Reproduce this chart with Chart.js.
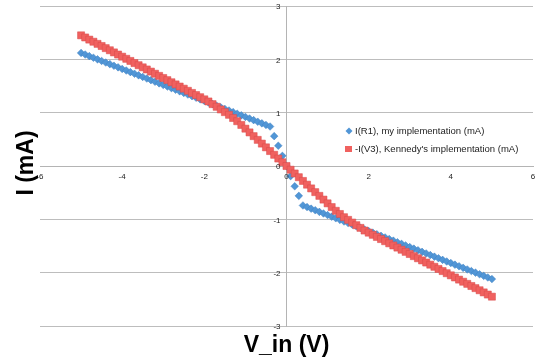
<!DOCTYPE html>
<html>
<head>
<meta charset="utf-8">
<script src="https://cdn.jsdelivr.net/npm/chart.js@4.4.0/dist/chart.umd.min.js"></script>
<style>
  html, body { margin: 0; padding: 0; background: #fff; }
  #wrap { width: 540px; height: 363px; }
</style>
</head>
<body>
<div id="wrap"><canvas id="iv-chart" width="540" height="363"></canvas></div>
<script>
// Input voltage (V)
const vIn = [
  -5.0, -4.9, -4.8, -4.7, -4.6, -4.5, -4.4, -4.3, -4.2, -4.1,
  -4.0, -3.9, -3.8, -3.7, -3.6, -3.5, -3.4, -3.3, -3.2, -3.1,
  -3.0, -2.9, -2.8, -2.7, -2.6, -2.5, -2.4, -2.3, -2.2, -2.1,
  -2.0, -1.9, -1.8, -1.7, -1.6, -1.5, -1.4, -1.3, -1.2, -1.1,
  -1.0, -0.9, -0.8, -0.7, -0.6, -0.5, -0.4, -0.3, -0.2, -0.1,
  0.0, 0.1, 0.2, 0.3, 0.4, 0.5, 0.6, 0.7, 0.8, 0.9,
  1.0, 1.1, 1.2, 1.3, 1.4, 1.5, 1.6, 1.7, 1.8, 1.9,
  2.0, 2.1, 2.2, 2.3, 2.4, 2.5, 2.6, 2.7, 2.8, 2.9,
  3.0, 3.1, 3.2, 3.3, 3.4, 3.5, 3.6, 3.7, 3.8, 3.9,
  4.0, 4.1, 4.2, 4.3, 4.4, 4.5, 4.6, 4.7, 4.8, 4.9,
  5.0
];

// I(R1), my implementation (mA)
const iMine = [
  2.12, 2.09, 2.06, 2.03, 2.00, 1.97, 1.94, 1.91, 1.88, 1.85,
  1.82, 1.79, 1.76, 1.73, 1.70, 1.67, 1.64, 1.61, 1.58, 1.55,
  1.52, 1.49, 1.46, 1.43, 1.40, 1.37, 1.34, 1.31, 1.28, 1.25,
  1.22, 1.19, 1.16, 1.13, 1.10, 1.07, 1.04, 1.01, 0.98, 0.95,
  0.92, 0.89, 0.86, 0.83, 0.80, 0.77, 0.74, 0.56, 0.38, 0.19,
  0.00, -0.19, -0.38, -0.56, -0.74, -0.77, -0.80, -0.83, -0.86, -0.89,
  -0.92, -0.95, -0.98, -1.01, -1.04, -1.07, -1.10, -1.13, -1.16, -1.19,
  -1.22, -1.25, -1.28, -1.31, -1.34, -1.37, -1.40, -1.43, -1.46, -1.49,
  -1.52, -1.55, -1.58, -1.61, -1.64, -1.67, -1.70, -1.73, -1.76, -1.79,
  -1.82, -1.85, -1.88, -1.91, -1.94, -1.97, -2.00, -2.03, -2.06, -2.09,
  -2.12
];

// -I(V3), Kennedy's implementation (mA)
const iKennedy = [
  2.45, 2.41, 2.37, 2.33, 2.29, 2.25, 2.21, 2.17, 2.13, 2.09,
  2.05, 2.01, 1.97, 1.93, 1.89, 1.85, 1.81, 1.77, 1.73, 1.69,
  1.65, 1.61, 1.57, 1.53, 1.49, 1.45, 1.41, 1.37, 1.33, 1.29,
  1.25, 1.21, 1.16, 1.11, 1.06, 1.01, 0.96, 0.90, 0.84, 0.77,
  0.70, 0.63, 0.56, 0.49, 0.42, 0.35, 0.28, 0.21, 0.14, 0.07,
  0.00, -0.07, -0.14, -0.21, -0.28, -0.35, -0.42, -0.49, -0.56, -0.63,
  -0.70, -0.77, -0.84, -0.90, -0.96, -1.01, -1.06, -1.11, -1.16, -1.21,
  -1.25, -1.29, -1.33, -1.37, -1.41, -1.45, -1.49, -1.53, -1.57, -1.61,
  -1.65, -1.69, -1.73, -1.77, -1.81, -1.85, -1.89, -1.93, -1.97, -2.01,
  -2.05, -2.09, -2.13, -2.17, -2.21, -2.25, -2.29, -2.33, -2.37, -2.41,
  -2.45
];

// Tick labels
const xTicks = [-6, -4, -2, 0, 2, 4, 6];
const yTicks = [-3, -2, -1, 0, 1, 2, 3];

const seriesNames = ['I(R1), my implementation (mA)', '-I(V3), Kennedy\'s implementation (mA)'];
const xTitle = 'V_in (V)';
const yTitle = 'I (mA)';

const BLUE = '#5196d6';
const BLUE_EDGE = '#3f80c2';
const RED = '#f0615f';
const RED_EDGE = '#d94a4b';
const FONT = '"Liberation Sans", Arial, sans-serif';

const toPoints = (ys) => vIn.map((x, i) => ({ x: x, y: ys[i] }));

/**
 * Tick labels next to the crossing axes (Excel puts them right on the axes)
 */
const axisLabels = {
  id: 'axisLabels',
  afterDraw(chart) {
    const { ctx } = chart;
    const xs = chart.scales.x;
    const ys = chart.scales.y;
    const x0 = xs.getPixelForValue(0);
    const y0 = ys.getPixelForValue(0);
    ctx.save();
    ctx.fillStyle = '#222';
    ctx.font = '8px ' + FONT;
    ctx.textBaseline = 'middle';

    ctx.textAlign = 'center';
    xTicks.forEach(v => ctx.fillText(String(v), xs.getPixelForValue(v), y0 + 11));

    ctx.textAlign = 'right';
    yTicks.forEach(v => ctx.fillText(String(v), x0 - 6, ys.getPixelForValue(v) + 1));
    ctx.restore();
  }
};

/**
 * Axis titles (Excel style, big bold)
 */
const axisTitles = {
  id: 'axisTitles',
  afterDraw(chart) {
    const { ctx, chartArea } = chart;
    const xMid = chart.scales.x.getPixelForValue(0);
    ctx.save();
    ctx.fillStyle = '#000';
    ctx.font = 'bold 23px ' + FONT;
    ctx.textAlign = 'center';
    ctx.textBaseline = 'middle';
    ctx.fillText(xTitle, xMid, chartArea.bottom + 20);
    ctx.translate(27, chart.scales.y.getPixelForValue(0) - 3);
    ctx.rotate(-Math.PI / 2);
    ctx.fillText(yTitle, 0, 0);
    ctx.restore();
  }
};

/**
 * Legend inside the plot, right of the y axis
 */
const innerLegend = {
  id: 'innerLegend',
  afterDraw(chart) {
    const { ctx } = chart;
    const left = 349;
    const rows = [131, 149];
    ctx.save();
    ctx.font = '9.5px ' + FONT;
    ctx.textBaseline = 'middle';
    ctx.textAlign = 'left';

    // blue diamond
    ctx.fillStyle = BLUE;
    ctx.beginPath();
    ctx.moveTo(left - 3.5, rows[0]);
    ctx.lineTo(left, rows[0] - 3.5);
    ctx.lineTo(left + 3.5, rows[0]);
    ctx.lineTo(left, rows[0] + 3.5);
    ctx.closePath();
    ctx.fill();

    // red square
    ctx.fillStyle = RED;
    ctx.fillRect(left - 4, rows[1] - 3, 7, 6);

    ctx.fillStyle = '#222';
    ctx.fillText(seriesNames[0], left + 6, rows[0]);
    ctx.fillText(seriesNames[1], left + 6, rows[1]);
    ctx.restore();
  }
};

document.addEventListener('DOMContentLoaded', () => {
  const ctx = document.getElementById('iv-chart').getContext('2d');

  new Chart(ctx, {
    type: 'scatter',
    data: {
      datasets: [
        {
          label: seriesNames[0],
          data: toPoints(iMine),
          pointStyle: 'rectRot',
          pointRadius: 3.8,
          backgroundColor: BLUE,
          borderColor: BLUE_EDGE,
          borderWidth: 0.5,
          order: 2
        },
        {
          label: seriesNames[1],
          data: toPoints(iKennedy),
          pointStyle: 'rect',
          pointRadius: 5,
          backgroundColor: RED,
          borderColor: RED_EDGE,
          borderWidth: 0.5,
          order: 1
        }
      ]
    },
    options: {
      responsive: false,
      animation: false,
      layout: {
        padding: { left: 40, right: 7, top: 6, bottom: 37 }
      },
      plugins: {
        legend: { display: false },
        tooltip: { enabled: false }
      },
      scales: {
        x: {
          type: 'linear',
          min: -6,
          max: 6,
          position: { y: 0 },
          afterBuildTicks: (scale) => { scale.ticks = xTicks.map(v => ({ value: v })); },
          afterFit: (scale) => { scale.height = 0; },
          grid: { display: false },
          border: { display: true, color: '#b4b4b4', width: 1 },
          ticks: { display: false }
        },
        y: {
          type: 'linear',
          min: -3,
          max: 3,
          position: { x: 0 },
          afterBuildTicks: (scale) => { scale.ticks = yTicks.map(v => ({ value: v })); },
          afterFit: (scale) => { scale.width = 0; },
          grid: {
            display: true,
            color: '#bdbdbd',
            lineWidth: 1,
            drawTicks: false
          },
          border: { display: true, color: '#b4b4b4', width: 1 },
          ticks: { display: false }
        }
      }
    },
    plugins: [axisLabels, axisTitles, innerLegend]
  });
});
</script>
</body>
</html>
